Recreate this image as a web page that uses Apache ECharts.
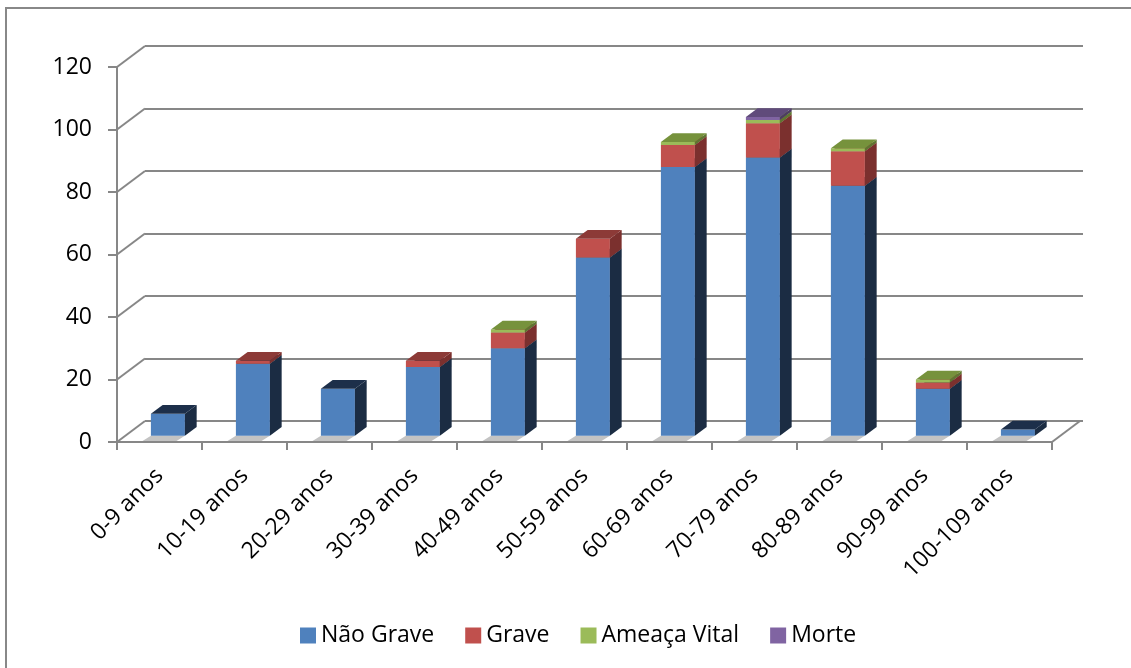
<!DOCTYPE html>
<html>
<head>
<meta charset="utf-8">
<title>Distribuição por faixa etária</title>
<script src="https://cdn.jsdelivr.net/npm/echarts/dist/echarts.min.js"></script>
<style>
  html, body { margin: 0; padding: 0; background: #ffffff; }
  #chart { width: 1131px; height: 668px; }
</style>
</head>
<body>
<div id="chart"></div>
<script>
// ---- data ----
const categories = ['0-9 anos', '10-19 anos', '20-29 anos', '30-39 anos', '40-49 anos',
  '50-59 anos', '60-69 anos', '70-79 anos', '80-89 anos', '90-99 anos', '100-109 anos'];
const naoGrave    = [7, 23, 15, 22, 28, 57, 86, 89, 80, 15, 2];
const grave       = [0, 1, 0, 2, 5, 6, 7, 11, 11, 2, 0];
const ameacaVital = [0, 0, 0, 0, 1, 0, 1, 1, 1, 1, 0];
const morte       = [0, 0, 0, 0, 0, 0, 0, 1, 0, 0, 0];
const yTicks      = [0, 20, 40, 60, 80, 100, 120];

const seriesDefs = [
  { name: 'Não Grave',    values: naoGrave,    front: '#4f81bd', side: '#1b2c43', top: '#1d2f4a' },
  { name: 'Grave',        values: grave,       front: '#c0504d', side: '#7b302e', top: '#8c3a37' },
  { name: 'Ameaça Vital', values: ameacaVital, front: '#9bbb59', side: '#5f7632', top: '#76923c' },
  { name: 'Morte',        values: morte,       front: '#8064a2', side: '#4d3c63', top: '#604b7b' }
];

// ---- oblique projection of the depth axis ----
const DX = 28, DY = -21;      // offset from the front plane to the back wall
const FRONT = 0.3;            // bar front face position along the depth
const DEPTH = 0.42;           // bar depth
const BAR_RATIO = 0.4;        // bar width relative to the category band
const LINE = '#878787';
const FONT = 'Open Sans';

// stacked segments: [categoryIndex, base, top]
const stacks = [];
const running = categories.map(() => 0);
seriesDefs.forEach(def => {
  stacks.push(def.values.map((v, i) => {
    const lo = running[i];
    running[i] += v;
    return [i, lo, running[i]];
  }));
});

function boxRenderer(def) {
  return function (params, api) {
    const i = api.value(0), lo = api.value(1), hi = api.value(2);
    if (!(hi > lo)) return;
    const half = api.size([1, 0])[0] * BAR_RATIO / 2;
    const c0 = api.coord([i, lo]);
    const c1 = api.coord([i, hi]);
    const fx = DX * FRONT, fy = DY * FRONT;
    const bx = DX * DEPTH, by = DY * DEPTH;
    const x0 = c0[0] - half + fx, x1 = c0[0] + half + fx;
    const yb = c0[1] + fy, yt = c1[1] + fy;
    return {
      type: 'group',
      children: [
        { type: 'rect', shape: { x: x0, y: yt, width: x1 - x0, height: yb - yt },
          style: { fill: def.front } },
        { type: 'polygon', shape: { points: [[x1, yb], [x1 + bx, yb + by], [x1 + bx, yt + by], [x1, yt]] },
          style: { fill: def.side } },
        { type: 'polygon', shape: { points: [[x0, yt], [x1, yt], [x1 + bx, yt + by], [x0 + bx, yt + by]] },
          style: { fill: def.top } }
      ]
    };
  };
}

// floor shadow under each bar
function shadowRenderer(params, api) {
  const i = api.value(0);
  const half = api.size([1, 0])[0] * BAR_RATIO / 2;
  const c = api.coord([i, 0]);
  const fx = DX * FRONT, fy = DY * FRONT;
  const y = c[1] - 1;
  return {
    type: 'polygon',
    shape: { points: [[c[0] - half, y], [c[0] + half, y], [c[0] + half + fx, c[1] + fy], [c[0] - half + fx, c[1] + fy]] },
    style: { fill: '#c3c3c3' }
  };
}

// side-wall diagonals linking the front axis to the back wall
function sideWallRenderer(params, api) {
  const v = api.value(0);
  const band = api.size([1, 0])[0];
  const c = api.coord([0, v]);
  const x = c[0] - band / 2;
  return {
    type: 'line',
    shape: { x1: x, y1: c[1], x2: x + DX, y2: c[1] + DY },
    style: { stroke: LINE, lineWidth: 2 }
  };
}

function floorEdgeRenderer(params, api) {
  const band = api.size([1, 0])[0];
  const c = api.coord([api.value(0), 0]);
  const x = c[0] + band / 2;
  return {
    type: 'line',
    shape: { x1: x, y1: c[1], x2: x + DX, y2: c[1] + DY },
    style: { stroke: LINE, lineWidth: 2 }
  };
}

const chart = echarts.init(document.getElementById('chart'), null, { renderer: 'canvas' });

const option = {
  backgroundColor: '#ffffff',
  animation: false,
  textStyle: { fontFamily: FONT },
  graphic: [{
    type: 'rect', silent: true,
    shape: { x: 6, y: 8, width: 1300, height: 800 },
    style: { fill: 'none', stroke: '#888888', lineWidth: 2 }
  }],
  grid: [
    { left: 117, top: 67, width: 935, height: 375, outerBoundsMode: 'none', containLabel: false },
    { left: 117 + DX, top: 67 + DY, width: 938, height: 375, outerBoundsMode: 'none', containLabel: false }
  ],
  xAxis: [
    {
      type: 'category', gridIndex: 0, data: categories, boundaryGap: true,
      axisLine: { show: true, lineStyle: { color: LINE, width: 2 } },
      axisTick: { show: true, length: 8, lineStyle: { color: LINE, width: 2 } },
      axisLabel: { interval: 0, rotate: 45, margin: 30, fontSize: 23, color: '#000', fontFamily: FONT },
      splitLine: { show: false }
    },
    { type: 'value', gridIndex: 1, show: false, min: 0, max: 1 }
  ],
  yAxis: [
    {
      type: 'value', gridIndex: 0, min: 0, max: 120, interval: 20,
      axisLine: { show: true, lineStyle: { color: LINE, width: 2 } },
      axisTick: { show: true, length: 9, lineStyle: { color: LINE, width: 2 } },
      axisLabel: { margin: 25, fontSize: 23, color: '#000', fontFamily: FONT },
      splitLine: { show: false }
    },
    {
      type: 'value', gridIndex: 1, min: 0, max: 120, interval: 20,
      axisLine: { show: false }, axisTick: { show: false }, axisLabel: { show: false },
      splitLine: { show: true, showMinLine: true, showMaxLine: true, lineStyle: { color: LINE, width: 2 } }
    }
  ],
  legend: {
    data: seriesDefs.map(d => d.name),
    left: 295, top: 619,
    icon: 'rect', itemWidth: 16, itemHeight: 16, itemGap: 31,
    textStyle: { fontSize: 23, color: '#000', fontFamily: FONT }
  },
  series: [
    {
      type: 'custom', name: 'wall', xAxisIndex: 0, yAxisIndex: 0, silent: true,
      data: yTicks.map(v => [v]), encode: { y: 0 }, renderItem: sideWallRenderer
    },
    {
      type: 'custom', name: 'floor', xAxisIndex: 0, yAxisIndex: 0, silent: true,
      data: [[categories.length - 1]], encode: { x: 0 }, renderItem: floorEdgeRenderer
    },
    {
      type: 'custom', name: 'shadow', xAxisIndex: 0, yAxisIndex: 0, silent: true,
      data: categories.map((c, i) => [i]), encode: { x: 0 }, renderItem: shadowRenderer
    }
  ].concat(seriesDefs.map((def, k) => ({
    type: 'custom', name: def.name, xAxisIndex: 0, yAxisIndex: 0,
    color: def.front,
    itemStyle: { color: def.front },
    data: stacks[k],
    encode: { x: 0, y: [1, 2] },
    renderItem: boxRenderer(def)
  })))
};

chart.setOption(option);
</script>
</body>
</html>
